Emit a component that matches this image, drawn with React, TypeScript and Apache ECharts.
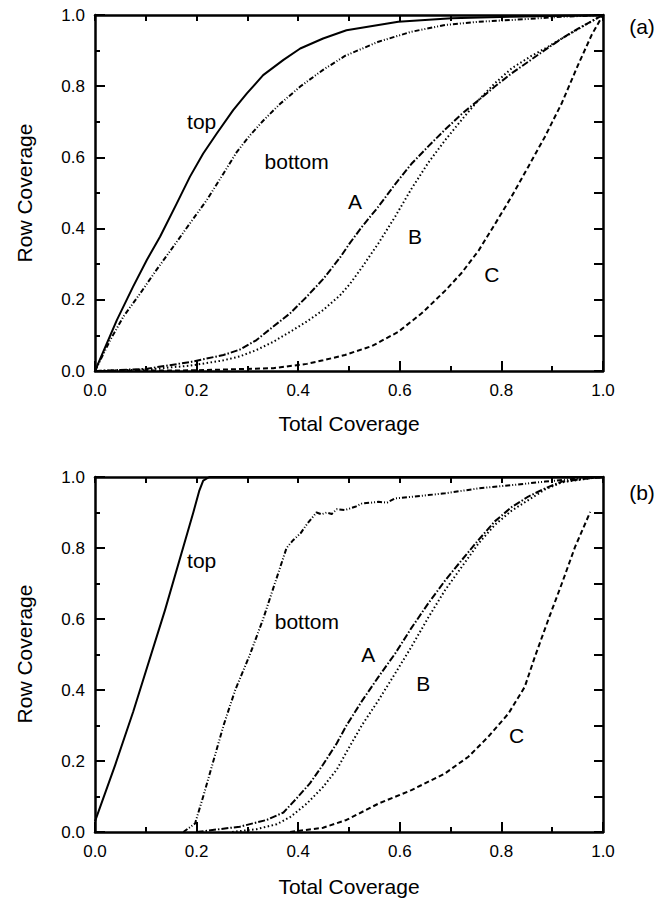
import React, { useEffect, useRef } from "react";
import * as echarts from "echarts";

// ---- Panel (a) data: [Total Coverage, Row Coverage]
const aTop = [[0,0],[0.043,0.143],[0.075,0.237],[0.102,0.312],[0.128,0.377],[0.161,0.471],[0.187,0.546],[0.213,0.611],[0.24,0.668],[0.272,0.733],[0.299,0.78],[0.331,0.831],[0.371,0.874],[0.404,0.906],[0.449,0.934],[0.495,0.957],[0.597,0.981],[0.702,0.991],[0.82,0.995],[0.92,0.998],[1,1]];
const aBottom = [[0,0],[0.03,0.087],[0.056,0.153],[0.089,0.218],[0.121,0.284],[0.154,0.349],[0.187,0.415],[0.22,0.48],[0.253,0.555],[0.279,0.615],[0.305,0.662],[0.331,0.703],[0.364,0.75],[0.404,0.799],[0.449,0.846],[0.492,0.885],[0.558,0.925],[0.623,0.953],[0.689,0.972],[0.755,0.981],[0.82,0.986],[0.919,0.995],[1,1]];
const aA = [[0,0],[0.1,0.006],[0.187,0.025],[0.253,0.045],[0.285,0.06],[0.318,0.087],[0.351,0.125],[0.384,0.162],[0.417,0.209],[0.449,0.258],[0.482,0.318],[0.502,0.36],[0.525,0.404],[0.558,0.462],[0.591,0.525],[0.623,0.582],[0.656,0.631],[0.689,0.678],[0.722,0.722],[0.755,0.761],[0.787,0.799],[0.82,0.836],[0.853,0.869],[0.886,0.902],[0.919,0.934],[0.951,0.962],[1,1]];
const aB = [[0,0],[0.1,0.004],[0.187,0.015],[0.253,0.03],[0.285,0.041],[0.318,0.059],[0.351,0.082],[0.384,0.11],[0.417,0.139],[0.449,0.171],[0.482,0.212],[0.502,0.245],[0.525,0.29],[0.558,0.359],[0.591,0.434],[0.623,0.512],[0.656,0.585],[0.689,0.648],[0.722,0.706],[0.755,0.761],[0.787,0.808],[0.82,0.85],[0.859,0.885],[0.886,0.906],[0.919,0.934],[0.96,0.968],[1,1]];
const aC = [[0,0],[0.2,0.002],[0.351,0.008],[0.417,0.02],[0.449,0.03],[0.492,0.045],[0.545,0.07],[0.597,0.11],[0.643,0.162],[0.689,0.225],[0.722,0.276],[0.755,0.338],[0.787,0.412],[0.82,0.49],[0.853,0.574],[0.886,0.659],[0.919,0.753],[0.951,0.86],[0.978,0.945],[1,1]];

// ---- Panel (b) data
const bTop = [[0,0.03],[0.04,0.19],[0.0755,0.34],[0.1378,0.625],[0.1935,0.9],[0.205,0.96],[0.213,0.99],[0.225,1],[1,1]];
const bBottom = [[0.174,0],[0.197,0.024],[0.213,0.1],[0.233,0.2],[0.253,0.3],[0.276,0.4],[0.305,0.5],[0.331,0.6],[0.354,0.7],[0.377,0.8],[0.39,0.822],[0.405,0.842],[0.417,0.867],[0.436,0.9],[0.446,0.895],[0.456,0.9],[0.466,0.896],[0.476,0.909],[0.492,0.907],[0.512,0.916],[0.525,0.925],[0.558,0.93],[0.575,0.928],[0.591,0.94],[0.623,0.944],[0.656,0.949],[0.689,0.954],[0.755,0.968],[0.82,0.977],[0.886,0.987],[0.951,0.996],[1,1]];
const bA = [[0.2,0],[0.285,0.015],[0.338,0.034],[0.371,0.055],[0.397,0.095],[0.423,0.137],[0.449,0.19],[0.476,0.25],[0.495,0.3],[0.525,0.368],[0.558,0.437],[0.591,0.503],[0.623,0.575],[0.656,0.644],[0.689,0.708],[0.722,0.766],[0.755,0.823],[0.787,0.875],[0.82,0.915],[0.853,0.945],[0.886,0.968],[0.919,0.987],[0.978,0.997],[1,1]];
const bB = [[0.27,0],[0.318,0.008],[0.358,0.022],[0.384,0.042],[0.417,0.08],[0.449,0.127],[0.476,0.176],[0.495,0.225],[0.525,0.3],[0.558,0.371],[0.591,0.447],[0.623,0.522],[0.656,0.604],[0.689,0.681],[0.722,0.747],[0.755,0.813],[0.787,0.865],[0.82,0.905],[0.853,0.935],[0.886,0.965],[0.919,0.985],[0.978,0.997],[1,1]];
const bC = [[0.384,0],[0.449,0.012],[0.495,0.034],[0.558,0.08],[0.623,0.118],[0.689,0.165],[0.735,0.212],[0.774,0.268],[0.814,0.334],[0.846,0.409],[0.866,0.494],[0.892,0.597],[0.919,0.7],[0.945,0.803],[0.975,0.902]];

// ---- Curve labels
const aLabels = [{ name: "top", value: [0.21, 0.7] }, { name: "bottom", value: [0.397, 0.588] }, { name: "A", value: [0.512, 0.476] }, { name: "B", value: [0.63, 0.377] }, { name: "C", value: [0.781, 0.27] }];
const bLabels = [{ name: "top", value: [0.21, 0.766] }, { name: "bottom", value: [0.417, 0.592] }, { name: "A", value: [0.538, 0.499] }, { name: "B", value: [0.646, 0.419] }, { name: "C", value: [0.83, 0.273] }];

const tickLabels = ["0.0", "0.2", "0.4", "0.6", "0.8", "1.0"];
const FONT = "Liberation Sans, Arial, Helvetica, sans-serif";

const dashStyles: Record<string, any> = {
  top: "solid",
  bottom: [5, 2, 1, 2, 1, 2],
  A: [7, 2, 1.5, 2],
  B: [1.5, 2.5],
  C: [5, 3],
};

export default function App() {
  const ref = useRef<HTMLDivElement>(null);
  useEffect(() => {
    document.body.style.margin = "0";
    const chart = echarts.init(ref.current!, null, { renderer: "svg" });
    const black = "#000";
    const mkX = (g: number) => [
      {
        type: "value", gridIndex: g, min: 0, max: 1, interval: 0.2, position: "bottom",
        axisLine: { show: true, onZero: false, lineStyle: { color: black, width: 2.5 } },
        axisTick: { show: true, inside: true, length: 10, lineStyle: { color: black, width: 2 } },
        minorTick: { show: true, splitNumber: 2, length: 5, lineStyle: { color: black, width: 2 } },
        axisLabel: { color: black, fontSize: 17, fontFamily: FONT, margin: 11, formatter: (v: number) => tickLabels[Math.round(v * 5)] },
        splitLine: { show: false }, minorSplitLine: { show: false },
      },
      {
        type: "value", gridIndex: g, min: 0, max: 1, interval: 0.1, position: "top",
        axisLine: { show: true, onZero: false, lineStyle: { color: black, width: 2.5 } },
        axisTick: { show: true, inside: true, length: 6, lineStyle: { color: black, width: 2 } },
        axisLabel: { show: false }, splitLine: { show: false },
      },
    ];
    const mkY = (g: number) => [
      {
        type: "value", gridIndex: g, min: 0, max: 1, interval: 0.2, position: "left",
        axisLine: { show: true, onZero: false, lineStyle: { color: black, width: 2.5 } },
        axisTick: { show: true, inside: true, length: 10, lineStyle: { color: black, width: 2 } },
        minorTick: { show: true, splitNumber: 2, length: 5, lineStyle: { color: black, width: 2 } },
        axisLabel: { color: black, fontSize: 17, fontFamily: FONT, margin: 10, formatter: (v: number) => tickLabels[Math.round(v * 5)] },
        splitLine: { show: false }, minorSplitLine: { show: false },
      },
      {
        type: "value", gridIndex: g, min: 0, max: 1, interval: 0.1, position: "right",
        axisLine: { show: true, onZero: false, lineStyle: { color: black, width: 2.5 } },
        axisTick: { show: true, inside: true, length: 9, lineStyle: { color: black, width: 2 } },
        axisLabel: { show: false }, splitLine: { show: false },
      },
    ];
    const line = (name: string, data: number[][], axisIdx: number) => ({
      type: "line", name, data, xAxisIndex: axisIdx, yAxisIndex: axisIdx,
      symbol: "none", smooth: false, silent: true,
      lineStyle: { color: black, width: 2, type: dashStyles[name], join: "round" },
    });
    const labels = (data: any[], axisIdx: number) => ({
      type: "scatter", data, xAxisIndex: axisIdx, yAxisIndex: axisIdx,
      symbolSize: 0, itemStyle: { color: black, opacity: 1 }, silent: true,
      label: { show: true, position: "inside", formatter: "{b}", color: black, opacity: 1, textBorderWidth: 0, fontSize: 21, fontFamily: FONT },
    });
    const txt = (text: string, x: number, y: number, rot = 0) => ({
      type: "text", x, y, rotation: rot,
      style: { text, fill: black, fontSize: 21, fontFamily: FONT, textAlign: "center", textVerticalAlign: "middle" },
    });
    chart.setOption({
      animation: false,
      backgroundColor: "#fff",
      grid: [
        { left: 95, top: 15, width: 508, height: 356 },
        { left: 95, top: 477, width: 508, height: 355 },
      ],
      xAxis: [...mkX(0), ...mkX(1)],
      yAxis: [...mkY(0), ...mkY(1)],
      series: [
        line("top", aTop, 0), line("bottom", aBottom, 0), line("A", aA, 0), line("B", aB, 0), line("C", aC, 0),
        labels(aLabels, 0),
        line("top", bTop, 2), line("bottom", bBottom, 2), line("A", bA, 2), line("B", bB, 2), line("C", bC, 2),
        labels(bLabels, 2),
      ],
      graphic: [
        txt("Total Coverage", 349, 423),
        txt("Total Coverage", 349, 886),
        txt("Row Coverage", 24, 193, Math.PI / 2),
        txt("Row Coverage", 24, 654, Math.PI / 2),
        txt("(a)", 642, 26),
        txt("(b)", 642, 492),
      ],
    });
    return () => chart.dispose();
  }, []);
  return <div ref={ref} style={{ width: 670, height: 900 }} />;
}
